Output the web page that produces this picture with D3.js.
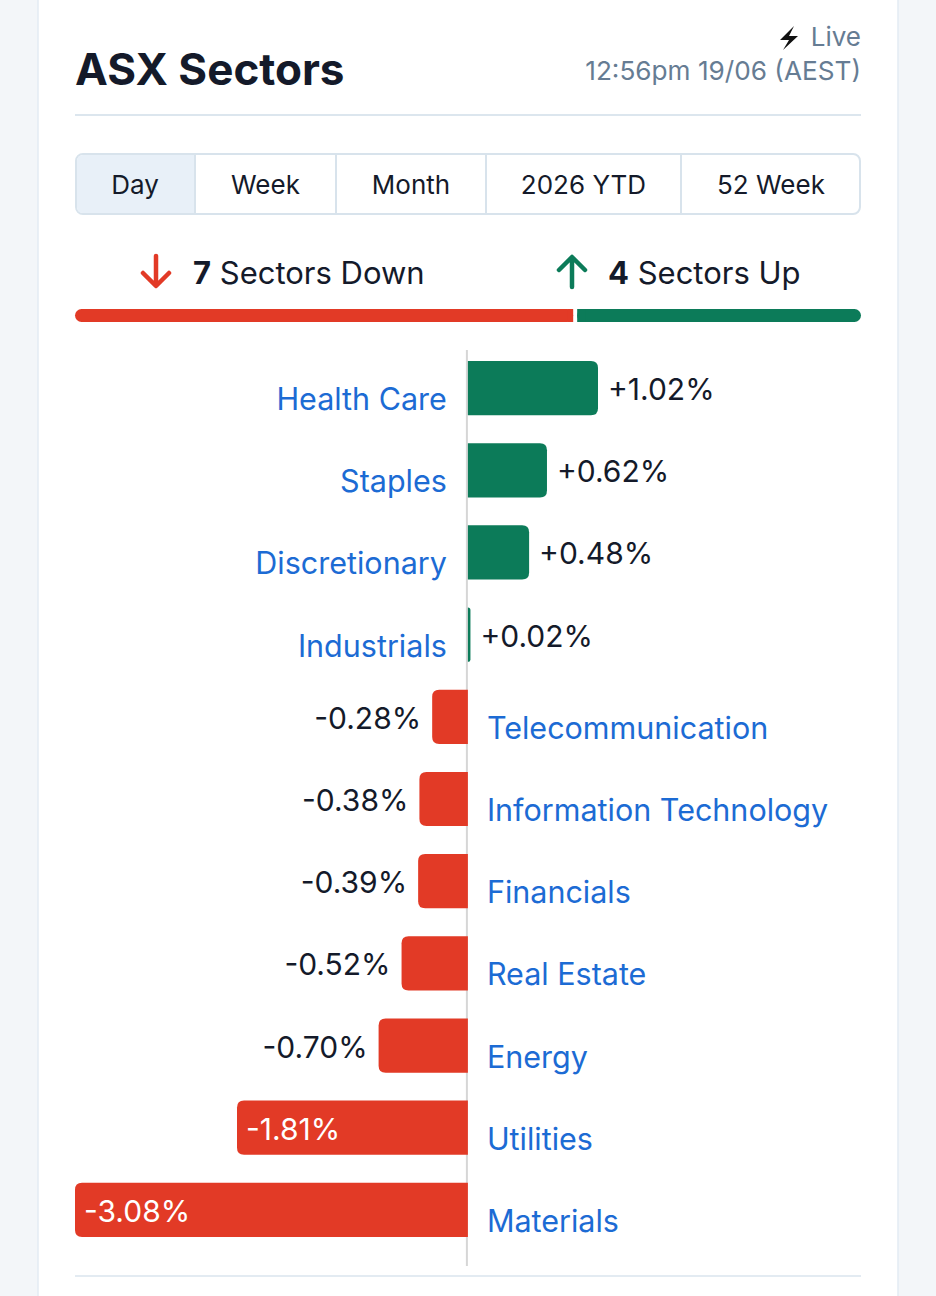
<!DOCTYPE html>
<html>
<head>
<meta charset="utf-8">
<script src="https://cdn.jsdelivr.net/npm/d3@7"></script>
<style>
  html, body { margin: 0; padding: 0; background: #f3f6f9; }
  body { width: 936px; height: 1296px; overflow: hidden; font-family: Inter, "Noto Sans", sans-serif; }
</style>
</head>
<body>
<div id="chart"></div>
<script>
// sector data, sorted from best to worst
var sectors = ["Health Care", "Staples", "Discretionary", "Industrials", "Telecommunication",
    "Information Technology", "Financials", "Real Estate", "Energy", "Utilities", "Materials"];
var values = [1.02, 0.62, 0.48, 0.02, -0.28, -0.38, -0.39, -0.52, -0.70, -1.81, -3.08];
var periods = ["Day", "Week", "Month", "2026 YTD", "52 Week"];
var periodEdges = [75, 195, 336, 486, 681, 861];

var width = 936;
var height = 1296;
var green = "#0c7b59";
var red = "#e23a26";
var blue = "#1c6bd4";
var dark = "#141a2a";

var svg = d3.select("#chart")
    .append("svg")
    .attr("width", width)
    .attr("height", height);

// card
svg.append("rect")
    .attr("x", 38).attr("y", -10)
    .attr("width", 860).attr("height", height + 20)
    .attr("fill", "#fff")
    .attr("stroke", "#e3ebf3")
    .attr("stroke-width", 1.5);

// header
svg.append("text")
    .attr("x", 75).attr("y", 85)
    .attr("font-size", 44).attr("font-weight", 700)
    .attr("fill", dark)
    .text("ASX Sectors");

svg.append("text")
    .attr("x", 861).attr("y", 46)
    .attr("text-anchor", "end")
    .attr("font-size", 26).attr("fill", "#667c93")
    .text("Live");

// lightning icon
svg.append("path")
    .attr("d", "M794,26 L780,40 L789,40 L783,50 L798,36 L789,36 Z")
    .attr("fill", "#111");

svg.append("text")
    .attr("x", 861).attr("y", 80)
    .attr("text-anchor", "end")
    .attr("font-size", 26.2).attr("fill", "#667c93")
    .text("12:56pm 19/06 (AEST)");

svg.append("line")
    .attr("x1", 75).attr("x2", 861)
    .attr("y1", 115).attr("y2", 115)
    .attr("stroke", "#dce6ee").attr("stroke-width", 2);

// period tabs
var tabs = svg.append("g");
tabs.append("rect")
    .attr("x", 76).attr("y", 154)
    .attr("width", 784).attr("height", 60)
    .attr("rx", 7)
    .attr("fill", "#fff")
    .attr("stroke", "#d8e3ec").attr("stroke-width", 2);

tabs.append("path")
    .attr("d", "M195,155 L83,155 Q77,155 77,161 L77,207 Q77,213 83,213 L195,213 Z")
    .attr("fill", "#e8f0f8");

tabs.selectAll("line")
    .data(periodEdges.slice(1, -1))
    .enter()
    .append("line")
    .attr("x1", function (d) { return d; }).attr("x2", function (d) { return d; })
    .attr("y1", 155).attr("y2", 213)
    .attr("stroke", "#d8e3ec").attr("stroke-width", 2);

tabs.selectAll("text")
    .data(periods)
    .enter()
    .append("text")
    .attr("x", function (d, i) { return (periodEdges[i] + periodEdges[i + 1]) / 2; })
    .attr("y", 194)
    .attr("text-anchor", "middle")
    .attr("font-size", 26)
    .attr("fill", dark)
    .text(function (d) { return d; });

// sectors down / up summary
var nDown = values.filter(function (v) { return v < 0; }).length;
var nUp = values.length - nDown;

// down arrow
svg.append("path")
    .attr("d", "M156,256 L156,285 M143,273 L156,286 L169,273")
    .attr("fill", "none").attr("stroke", red)
    .attr("stroke-width", 4.5).attr("stroke-linecap", "round").attr("stroke-linejoin", "round");

var downText = svg.append("text")
    .attr("x", 193).attr("y", 284)
    .attr("font-size", 31).attr("fill", dark);
downText.append("tspan").attr("font-weight", 700).text(nDown);
downText.append("tspan").text(" Sectors Down");

// up arrow
svg.append("path")
    .attr("d", "M572,287 L572,258 M559,270 L572,257 L585,270")
    .attr("fill", "none").attr("stroke", green)
    .attr("stroke-width", 4.5).attr("stroke-linecap", "round").attr("stroke-linejoin", "round");

var upText = svg.append("text")
    .attr("x", 608).attr("y", 284)
    .attr("font-size", 31).attr("fill", dark);
upText.append("tspan").attr("font-weight", 700).text(nUp);
upText.append("tspan").text(" Sectors Up");

// proportion bar
var split = d3.scaleLinear().domain([0, values.length]).range([75, 861]);
svg.append("rect")
    .attr("x", split(0)).attr("y", 309)
    .attr("width", split(nDown) - split(0) - 2).attr("height", 13)
    .attr("rx", 6.5).attr("fill", red);
svg.append("rect")
    .attr("x", split(nDown) - 8).attr("y", 309)
    .attr("width", 6).attr("height", 13)
    .attr("fill", red);
svg.append("rect")
    .attr("x", split(nDown) + 2).attr("y", 309)
    .attr("width", split(values.length) - split(nDown) - 2).attr("height", 13)
    .attr("rx", 6.5).attr("fill", green);
svg.append("rect")
    .attr("x", split(nDown) + 2).attr("y", 309)
    .attr("width", 8).attr("height", 13)
    .attr("fill", green);

// bar chart scales
var x = d3.scaleLinear()
    .domain([d3.min(values), d3.max(values)])
    .range([75, 598]);

var y = d3.scaleBand()
    .domain(sectors)
    .range([347, 1251])
    .paddingInner(0.34)
    .paddingOuter(0.17);

var data = sectors.map(function (s, i) { return { name: s, value: values[i] }; });

// bar with rounded outer end
function barPath(d) {
    var x0 = x(0), x1 = x(d.value);
    var top = y(d.name), bot = top + y.bandwidth();
    var r = Math.min(7, Math.abs(x1 - x0));
    if (d.value >= 0) {
        return "M" + x0 + "," + top + " L" + (x1 - r) + "," + top +
            " Q" + x1 + "," + top + " " + x1 + "," + (top + r) +
            " L" + x1 + "," + (bot - r) +
            " Q" + x1 + "," + bot + " " + (x1 - r) + "," + bot +
            " L" + x0 + "," + bot + " Z";
    }
    return "M" + x0 + "," + top + " L" + (x1 + r) + "," + top +
        " Q" + x1 + "," + top + " " + x1 + "," + (top + r) +
        " L" + x1 + "," + (bot - r) +
        " Q" + x1 + "," + bot + " " + (x1 + r) + "," + bot +
        " L" + x0 + "," + bot + " Z";
}

// zero line
svg.append("line")
    .attr("x1", x(0) - 1).attr("x2", x(0) - 1)
    .attr("y1", 350).attr("y2", 1266)
    .attr("stroke", "#d6d6d6").attr("stroke-width", 2);

var rows = svg.selectAll("g.row")
    .data(data)
    .enter()
    .append("g")
    .attr("class", "row");

rows.append("path")
    .attr("d", barPath)
    .attr("fill", function (d) { return d.value >= 0 ? green : red; });

function fmt(v) { return (v > 0 ? "+" : "") + v.toFixed(2) + "%"; }
function inside(d) { return d.value < 0 && x(0) - x(d.value) > 140; }

// value labels
rows.append("text")
    .attr("x", function (d) {
        if (d.value >= 0) return x(d.value) + 10;
        return inside(d) ? x(d.value) + 9 : x(d.value) - 11;
    })
    .attr("y", function (d) { return y(d.name) + y.bandwidth() / 2 + 12; })
    .attr("text-anchor", function (d) {
        return (d.value >= 0 || inside(d)) ? "start" : "end";
    })
    .attr("font-size", 30)
    .attr("fill", function (d) { return inside(d) ? "#fff" : dark; })
    .text(function (d) { return fmt(d.value); });

// sector labels
rows.append("text")
    .attr("x", function (d) { return d.value >= 0 ? x(0) - 21 : x(0) + 19; })
    .attr("y", function (d) { return y(d.name) + y.bandwidth() / 2 + 22; })
    .attr("text-anchor", function (d) { return d.value >= 0 ? "end" : "start"; })
    .attr("font-size", 30.5)
    .attr("fill", blue)
    .text(function (d) { return d.name; });

// bottom divider
svg.append("line")
    .attr("x1", 75).attr("x2", 861)
    .attr("y1", 1276).attr("y2", 1276)
    .attr("stroke", "#e3ebf2").attr("stroke-width", 2);
</script>
</body>
</html>
